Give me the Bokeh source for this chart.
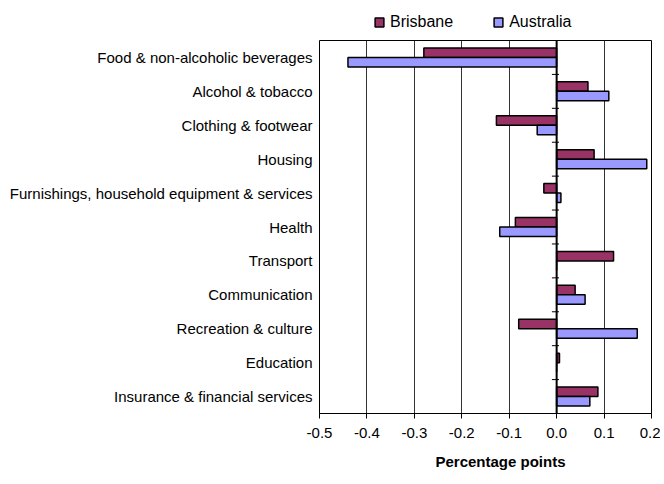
from bokeh.plotting import figure
from bokeh.layouts import column
from bokeh.models import (ColumnDataSource, FactorRange, Range1d, FixedTicker, NumeralTickFormatter,
                          Legend, LegendItem, Span, Title)
from bokeh.transform import dodge
from bokeh.embed import file_html
from bokeh.resources import INLINE

categories = ["Food & non-alcoholic beverages", "Alcohol & tobacco", "Clothing & footwear", "Housing",
              "Furnishings, household equipment & services", "Health", "Transport", "Communication",
              "Recreation & culture", "Education", "Insurance & financial services"]
brisbane = [-0.28, 0.066, -0.127, 0.079, -0.027, -0.087, 0.12, 0.039, -0.08, 0.006, 0.087]
australia = [-0.44, 0.11, -0.041, 0.19, 0.009, -0.12, 0.0, 0.06, 0.17, 0.0, 0.07]
x_ticks = [-0.5, -0.4, -0.3, -0.2, -0.1, 0.0, 0.1, 0.2]
series = ["Brisbane", "Australia"]
colors = ["#993366", "#9999FF"]

FONT = "Liberation Sans"

src = ColumnDataSource(data=dict(cat=categories, bris=brisbane, aus=australia,
                                 t0=[-0.01] * len(categories), t1=[0.005] * len(categories)))

# ---- legend strip above the chart (its square markers fall outside its view; only the legend shows) ----
top = figure(width=660, height=38, output_backend="svg", toolbar_location=None,
             x_axis_type=None, y_axis_type=None, x_range=Range1d(5, 6),
             y_range=FactorRange(factors=categories[::-1]),
             min_border_left=319, min_border_right=9, min_border_top=0, min_border_bottom=0)
top.outline_line_color = None
top.grid.grid_line_color = None
lr = [top.scatter(x=col, y="cat", marker="square", size=9, source=src, fill_color=c,
                  line_color="black", line_width=1.5) for col, c in zip(["bris", "aus"], colors)]
legend = Legend(items=[LegendItem(label=s, renderers=[r]) for s, r in zip(series, lr)],
                orientation="horizontal", location=(49, 5))
legend.border_line_color = None
legend.background_fill_alpha = 0
legend.padding = 0
legend.margin = 0
legend.spacing = 34
legend.glyph_width = 22
legend.glyph_height = 22
legend.label_standoff = 0
legend.label_height = 18
legend.label_text_font = FONT
legend.label_text_font_size = "16px"
legend.label_text_color = "black"
top.add_layout(legend)

# ---- main chart ----
p = figure(width=660, height=444, output_backend="svg", toolbar_location=None,
           y_range=FactorRange(factors=categories[::-1]), x_range=Range1d(x_ticks[0], x_ticks[-1]),
           min_border_left=319, min_border_right=9, min_border_top=2, min_border_bottom=69)
p.outline_line_color = "black"
p.outline_line_width = 1
p.background_fill_color = "white"
p.border_fill_color = "white"

r1 = p.hbar(y=dodge("cat", 0.14, range=p.y_range), left=0, right="bris", height=0.28, source=src,
            fill_color=colors[0], line_color="black", line_width=1.5)
r2 = p.hbar(y=dodge("cat", -0.14, range=p.y_range), left=0, right="aus", height=0.28, source=src,
            fill_color=colors[1], line_color="black", line_width=1.5)

p.add_layout(Span(location=0, dimension="height", line_color="black", line_width=2))
p.segment(x0="t0", x1="t1", y0=dodge("cat", 0.5, range=p.y_range), y1=dodge("cat", 0.5, range=p.y_range),
          source=src, line_color="black", line_width=1)

p.xaxis.ticker = FixedTicker(ticks=x_ticks)
p.xaxis.formatter = NumeralTickFormatter(format="0.0")
p.xaxis.minor_tick_line_color = None
p.xaxis.major_tick_out = 5
p.xaxis.major_tick_in = 0
p.xaxis.axis_line_color = "black"
p.xaxis.major_tick_line_color = "black"
p.xaxis.major_label_text_font = FONT
p.xaxis.major_label_text_font_size = "15px"
p.xaxis.major_label_text_color = "black"
p.xaxis.major_label_standoff = 9

p.yaxis.axis_line_color = None
p.yaxis.major_tick_line_color = None
p.yaxis.major_tick_out = 0
p.yaxis.major_tick_in = 0
p.yaxis.minor_tick_line_color = None
p.yaxis.major_label_text_font = FONT
p.yaxis.major_label_text_font_size = "15px"
p.yaxis.major_label_text_color = "black"
p.yaxis.major_label_standoff = 7

p.xgrid.grid_line_color = "#333333"
p.xgrid.grid_line_width = 1
p.ygrid.grid_line_color = None

t = Title(text="Percentage points", align="left", offset=116, text_font=FONT,
          text_font_size="15px", text_font_style="bold", text_color="black", standoff=20)
p.add_layout(t, "below")

open("out.html", "w").write(file_html(column(top, p), INLINE))
